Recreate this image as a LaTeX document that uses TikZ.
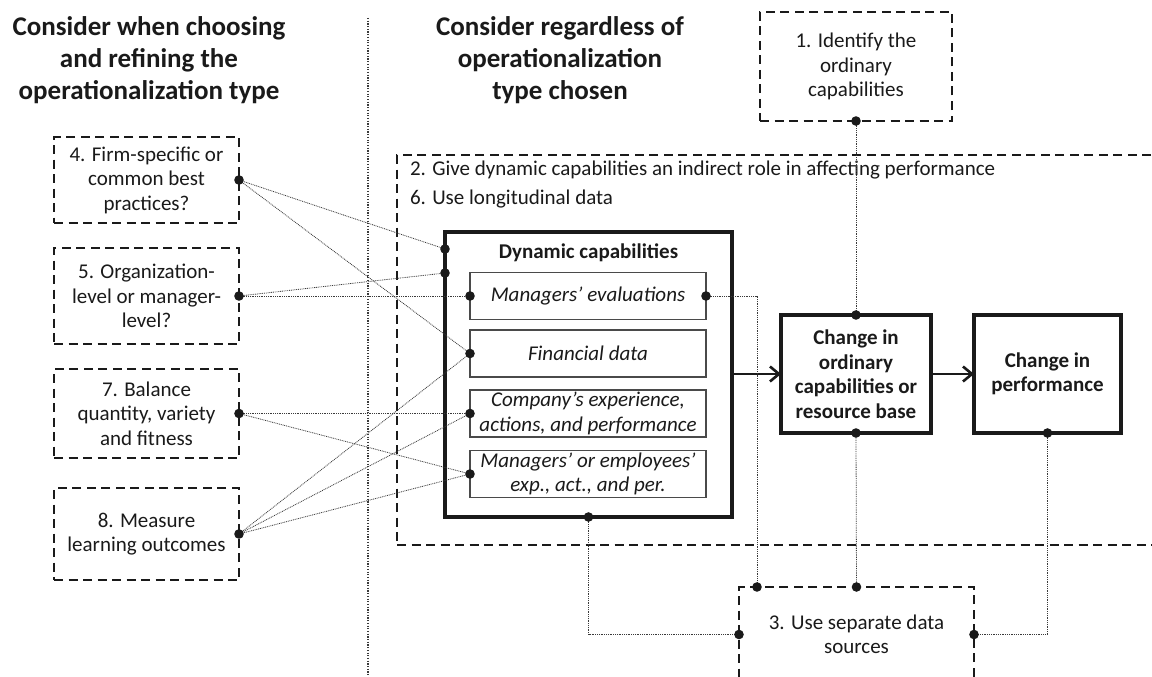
\documentclass[tikz,border=0pt]{standalone}
\usepackage{fontspec}
\setmainfont{Carlito}
\usetikzlibrary{arrows.meta}
\definecolor{ink}{HTML}{1A1A1A}
\definecolor{dotline}{HTML}{3A3A3A}
\definecolor{thin}{HTML}{4A4A4A}
\begin{document}
\begin{tikzpicture}[x=1pt,y=-1pt,
  every node/.style={inner sep=0pt, outer sep=0pt},
  txt/.style={text=ink, font=\fontsize{21}{24.5}\selectfont, align=center},
  head/.style={text=ink, font=\fontsize{27}{32}\selectfont\bfseries, align=center},
  dbox/.style={draw=ink, line width=2.5pt, dash pattern=on 9pt off 5.5pt},
  thickbox/.style={draw=ink, line width=4pt},
  innerbox/.style={draw=thin, line width=1.1pt, minimum width=236pt, minimum height=47pt, txt, font=\fontsize{21}{24.5}\selectfont\itshape},
  conn/.style={draw=dotline, line width=0.8pt, dash pattern=on 0.9pt off 0.9pt},
  flow/.style={draw=ink, line width=2.6pt, -{Straight Barb[length=9pt,width=15pt,line width=2.6pt]}},
  dot/.style={fill=ink}
]
\useasboundingbox (0,0) rectangle (1152,677);
\fill[white] (0,0) rectangle (1152,677);

% headers
\node[head] (hl) at (149,60) {Consider when choosing\\and refining the\\operationalization type};
\node[head] (hr) at (560,60) {Consider regardless of\\operationalization\\type chosen};

% separator
\draw[draw=dotline, line width=1.4pt, dash pattern=on 1.2pt off 1.5pt] (368,18) -- (368,677);

% left boxes
\node[dbox, txt, minimum width=185pt, minimum height=86pt] (b4) at (146.5,180) {4. Firm-specific or\\common best\\practices?};
\node[dbox, txt, minimum width=185pt, minimum height=96pt] (b5) at (146.5,296) {5. Organization-\\level or manager-\\level?};
\node[dbox, txt, minimum width=185pt, minimum height=89pt] (b7) at (146.5,413.5) {7. Balance\\quantity, variety\\and fitness};
\node[dbox, txt, minimum width=185pt, minimum height=92pt] (b8) at (146.5,534) {8. Measure\\learning outcomes};

% big region (open on the right)
\node[dbox, minimum width=820pt, minimum height=390pt, anchor=north west] (reg) at (397,155) {};
\node[txt, anchor=west] (t2) at (410,170) {2. Give dynamic capabilities an indirect role in affecting performance};
\node[txt, anchor=west] (t6) at (410,199) {6. Use longitudinal data};

% box 1
\node[dbox, txt, minimum width=192pt, minimum height=109pt] (b1) at (856,66.5) {1. Identify the\\ordinary\\capabilities};

% box 3 (open at the bottom)
\node[dbox, minimum width=235pt, minimum height=130pt, anchor=north] (b3) at (856.5,587) {};
\node[txt] (t3) at (856.5,634.5) {3. Use separate data\\sources};

% dynamic capabilities
\node[thickbox, minimum width=287pt, minimum height=285pt] (dc) at (588.5,374.5) {};
\node[txt, font=\fontsize{21}{24.5}\selectfont\bfseries] (dct) at (588.5,253) {Dynamic capabilities};
\node[innerbox] (me) at (588,296) {Managers’ evaluations};
\node[innerbox] (fin) at (588,353.5) {Financial data};
\node[innerbox] (comp) at (588,413.5) {Company’s experience,\\actions, and performance};
\node[innerbox] (memp) at (588,474) {Managers’ or employees’\\exp., act., and per.};

% change boxes
\node[thickbox, txt, font=\fontsize{21}{24.5}\selectfont\bfseries, minimum width=150pt, minimum height=118pt] (co) at (856,374) {Change in\\ordinary\\capabilities or\\resource base};
\node[thickbox, txt, font=\fontsize{21}{24.5}\selectfont\bfseries, minimum width=147pt, minimum height=118pt] (cp) at (1047.5,374) {Change in\\performance};

% dot coordinates
\coordinate (dcA) at (dc.west |- 0,249);
\coordinate (dcB) at (dc.west |- 0,273);
\coordinate (b3a) at (757,587);

% flow arrows
\draw[flow] (dc.east |- co.west) -- (co.west);
\draw[flow] (co.east) -- (cp.west);

% dotted connectors
\draw[conn] (b4.east) -- (dcA);
\draw[conn] (b4.east) -- (fin.west);
\draw[conn] (b5.east) -- (dcB);
\draw[conn] (b5.east) -- (me.west);
\draw[conn] (b7.east) -- (comp.west);
\draw[conn] (b7.east) -- (memp.west);
\draw[conn] (b8.east) -- (fin.west);
\draw[conn] (b8.east) -- (comp.west);
\draw[conn] (b8.east) -- (memp.west);
\draw[conn] (b1.south) -- (co.north);
\draw[conn] (me.east) -| (b3a);
\draw[conn] (co.south) -- (b3.north);
\draw[conn] (cp.south) |- (b3.east |- t3);
\draw[conn] (dc.south) |- (b3.west |- t3);

% dots
\foreach \p in {b4.east,b5.east,b7.east,b8.east,dcA,dcB,me.west,me.east,fin.west,comp.west,memp.west,dc.south,b1.south,co.north,co.south,cp.south,b3a,b3.north}
  \fill[dot] (\p) circle (4.8pt);
\fill[dot] (b3.west |- t3) circle (4.8pt);
\fill[dot] (b3.east |- t3) circle (4.8pt);
\end{tikzpicture}
\end{document}
